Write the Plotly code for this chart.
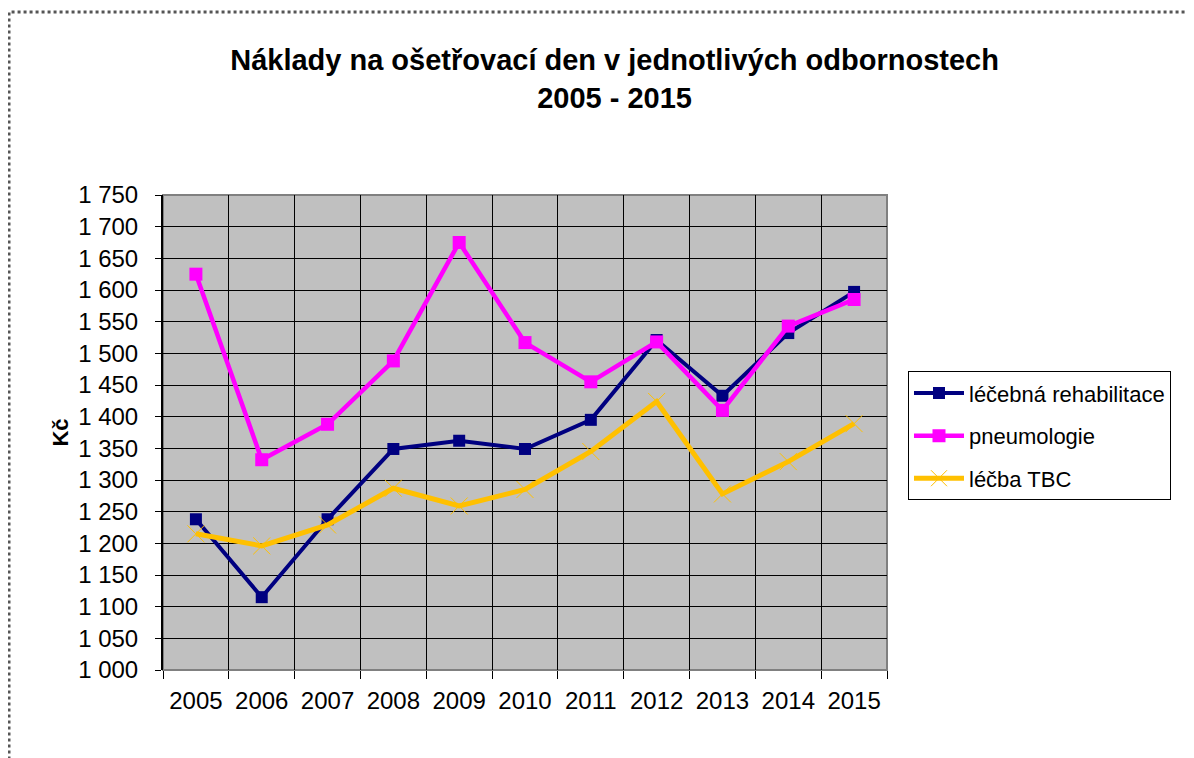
import plotly.graph_objects as go

years = ["2005", "2006", "2007", "2008", "2009", "2010", "2011", "2012", "2013", "2014", "2015"]
rehab = [1238, 1115, 1238, 1349, 1362, 1349, 1395, 1521, 1433, 1532, 1597]
pneumo = [1625, 1332, 1388, 1488, 1675, 1517, 1455, 1518, 1410, 1543, 1585]
tbc = [1215, 1196, 1229, 1287, 1259, 1285, 1345, 1424, 1278, 1329, 1389]
names = ["léčebná rehabilitace", "pneumologie", "léčba TBC"]
title_text = "Náklady na ošetřovací den v jednotlivých odbornostech<br>2005 - 2015"
y_title = "Kč"

xpos = list(range(len(years)))
bounds = [i - 0.5 for i in range(len(years) + 1)]

fig = go.Figure()
fig.add_trace(go.Scatter(x=xpos, y=rehab, name=names[0], mode="lines+markers", legendgroup="a",
                         line=dict(color="#000080", width=4),
                         marker=dict(symbol="square", size=12, color="#000080")))
fig.add_trace(go.Scatter(x=xpos, y=pneumo, name=names[1], mode="lines+markers", legendgroup="b",
                         line=dict(color="#FF00FF", width=4.5),
                         marker=dict(symbol="square", size=13, color="#FF00FF")))
fig.add_trace(go.Scatter(x=xpos, y=tbc, name=names[2], mode="lines+markers", legendgroup="c",
                         line=dict(color="#FFC000", width=5),
                         marker=dict(symbol="x-thin-open", size=17,
                                     line=dict(color="#FFC000", width=1))))

font = "Liberation Sans, Arial, sans-serif"
fig.update_layout(
    width=1194, height=758,
    margin=dict(l=155, r=315, t=187, b=96),
    paper_bgcolor="white", plot_bgcolor="#C0C0C0",
    separators=", ",
    font=dict(family=font, size=24, color="black"),
    title=dict(text=title_text, font=dict(family=font, size=29, color="black", weight="bold"),
               x=0.508, xanchor="center", xref="container",
               y=0.918, yanchor="top", yref="container"),
    showlegend=True,
    legend=dict(x=1.029, y=0.629, xanchor="left", yanchor="top",
                bgcolor="white", bordercolor="black", borderwidth=1,
                font=dict(family=font, size=22, color="black"),
                tracegroupgap=11, itemwidth=50),
    xaxis=dict(range=[-0.5, len(years) - 0.5], tickmode="array", tickvals=xpos, ticktext=years,
               ticks="", showgrid=False, zeroline=False, showline=False,
               tickfont=dict(size=24), ticklabelstandoff=14,
               minor=dict(tickmode="array", tickvals=bounds, ticks="outside", ticklen=8,
                          tickcolor="black", tickwidth=1, showgrid=True,
                          gridcolor="black", gridwidth=1)),
    yaxis=dict(range=[1000, 1750], dtick=50, tick0=1000, tickformat=",d",
               ticks="outside", ticklen=6, tickcolor="black", tickwidth=1,
               showgrid=True, gridcolor="black", gridwidth=1, zeroline=False,
               showline=True, linecolor="black", linewidth=2,
               tickfont=dict(size=24), ticklabelstandoff=12,
               title=dict(text=y_title, font=dict(family=font, size=22, weight="bold"), standoff=3)),
)

fig.add_shape(type="rect", xref="paper", yref="paper", x0=0, y0=0, x1=1, y1=1,
              line=dict(color="#808080", width=2), layer="between")
fig.add_shape(type="rect", xref="paper", yref="paper", x0=-0.2127, y0=-0.25, x1=1.6, y1=1.3853,
              line=dict(color="#555555", width=3, dash="dot"), layer="below")

fig.write_html("out.html")
